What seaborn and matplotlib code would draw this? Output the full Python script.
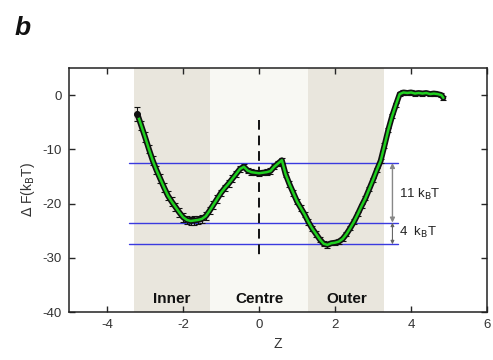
import matplotlib
matplotlib.use("Agg")
import matplotlib.pyplot as plt
import numpy as np
import pandas as pd
import seaborn as sns

# Free-energy profile along the pore axis
z = [-3.2, -3.1, -3.0, -2.9, -2.8, -2.7, -2.6, -2.5, -2.4, -2.3, -2.2, -2.1,
     -2.0, -1.9, -1.8, -1.7, -1.6, -1.5, -1.4, -1.3, -1.2, -1.1, -1.0, -0.9,
     -0.8, -0.7, -0.6, -0.5, -0.4, -0.3, -0.2, -0.1, 0.0, 0.1, 0.2, 0.3,
     0.4, 0.5, 0.6, 0.7, 0.8, 0.9, 1.0, 1.1, 1.2, 1.3, 1.4, 1.5,
     1.6, 1.7, 1.8, 1.9, 2.0, 2.1, 2.2, 2.3, 2.4, 2.5, 2.6, 2.7,
     2.8, 2.9, 3.0, 3.1, 3.2, 3.3, 3.4, 3.5, 3.6, 3.7, 3.8, 3.9,
     4.0, 4.1, 4.2, 4.3, 4.4, 4.5, 4.6, 4.7, 4.8, 4.85]
dF = [-3.5, -5.6, -7.7, -9.9, -12.0, -13.8, -15.4, -17.0, -18.5, -19.6, -20.6, -21.6,
      -22.5, -23.0, -23.2, -23.1, -23.0, -22.8, -22.3, -21.3, -20.2, -19.1, -18.0, -17.1,
      -16.3, -15.4, -14.5, -13.6, -13.2, -13.9, -14.2, -14.3, -14.4, -14.3, -14.2, -14.0,
      -13.2, -12.6, -12.0, -14.6, -16.4, -18.0, -19.6, -20.8, -22.0, -23.4, -24.6, -25.6,
      -26.6, -27.4, -27.6, -27.3, -27.2, -27.0, -26.5, -25.6, -24.5, -23.3, -21.9, -20.4,
      -19.0, -17.3, -15.6, -13.8, -12.1, -9.3, -6.4, -3.9, -1.8, 0.2, 0.5, 0.4,
      0.5, 0.3, 0.4, 0.3, 0.4, 0.2, 0.3, 0.2, 0.0, -0.5]
err = [1.3, 0.9, 0.9, 0.8, 0.8, 0.8, 0.8, 0.8, 0.8, 0.8, 0.8, 0.8,
       0.8, 0.8, 0.8, 0.8, 0.8, 0.7, 0.7, 0.7, 0.7, 0.7, 0.6, 0.6,
       0.6, 0.6, 0.6, 0.5, 0.5, 0.5, 0.5, 0.5, 0.5, 0.5, 0.5, 0.5,
       0.5, 0.5, 0.5, 0.5, 0.5, 0.5, 0.5, 0.5, 0.5, 0.5, 0.5, 0.5,
       0.5, 0.5, 0.5, 0.4, 0.4, 0.4, 0.4, 0.4, 0.4, 0.4, 0.4, 0.4,
       0.4, 0.4, 0.4, 0.4, 0.4, 0.4, 0.4, 0.4, 0.4, 0.4, 0.4, 0.4,
       0.4, 0.4, 0.4, 0.4, 0.4, 0.4, 0.4, 0.4, 0.4, 0.4]

# Pore regions
regions = ["Inner", "Centre", "Outer"]
region_bounds = [(-3.3, -1.3), (-1.3, 1.3), (1.3, 3.3)]
region_colors = ["#e9e6dd", "#f8f8f3", "#e9e6dd"]

# Reference levels for the barriers
levels = [-12.5, -23.5, -27.5]
barrier_labels = ["11 k$_\\mathrm{B}$T", "4  k$_\\mathrm{B}$T"]

xticks = [-4, -2, 0, 2, 4, 6]
yticks = [0, -10, -20, -30, -40]

df = pd.DataFrame({"z": z, "dF": dF, "err": err})

sns.set_style("ticks")
plt.rcParams["font.family"] = ["Liberation Sans", "DejaVu Sans"]
plt.rcParams["axes.unicode_minus"] = False

fig = plt.figure(figsize=(4.93, 3.6), dpi=100)
ax = fig.add_axes([0.140, 0.133, 0.848, 0.678])

for (lo, hi), c in zip(region_bounds, region_colors):
    ax.axvspan(lo, hi, color=c, lw=0, zorder=0)

for lv in levels:
    ax.plot([-3.42, 3.66], [lv, lv], color="#3a3adf", lw=1.0, zorder=2)

ax.plot([0, 0], [-4.5, -30], color="#111111", lw=1.4, ls=(0, (5, 3)), zorder=2)

ax.errorbar(df["z"], df["dF"], yerr=df["err"], fmt="none", ecolor="#111111",
            elinewidth=0.8, capsize=2.0, capthick=0.8, zorder=3)
sns.lineplot(data=df, x="z", y="dF", color="#111111", lw=4.2, ax=ax,
             zorder=4, sort=False)
sns.lineplot(data=df, x="z", y="dF", color="#1fd01f", lw=1.8, ax=ax,
             zorder=5, sort=False)
ax.plot(df["z"].iloc[0], df["dF"].iloc[0], "o", color="#111111", ms=4, zorder=5)

# Barrier arrows
ax.annotate("", xy=(3.51, levels[0]), xytext=(3.51, levels[1]),
            arrowprops=dict(arrowstyle="<|-|>", color="#888888", lw=1.0,
                            mutation_scale=7, shrinkA=0, shrinkB=0), zorder=6)
ax.annotate("", xy=(3.51, levels[1]), xytext=(3.51, levels[2]),
            arrowprops=dict(arrowstyle="<|-|>", color="#666666", lw=0.8,
                            mutation_scale=5, shrinkA=0, shrinkB=0), zorder=6)
ax.text(3.68, -18.3, barrier_labels[0], fontsize=9.5, color="#222222",
        va="center", ha="left")
ax.text(3.68, -25.4, barrier_labels[1], fontsize=9.5, color="#222222",
        va="center", ha="left")

for name, (lo, hi) in zip(regions, region_bounds):
    ax.text((lo + hi) / 2, -37.5, name, fontsize=11, fontweight="bold",
            ha="center", va="center", color="#111111", zorder=6)

ax.set_xlim(-5, 6)
ax.set_ylim(-40, 5)
ax.set_xticks(xticks)
ax.set_yticks(yticks)
ax.tick_params(direction="in", length=4, width=1, top=True, right=True,
               labelsize=9.5, labelcolor="#333333", pad=5)
for s in ax.spines.values():
    s.set_visible(True)
    s.set_linewidth(1.1)
    s.set_color("#222222")
ax.set_xlabel("Z", fontsize=10, color="#333333")
ax.set_ylabel("$\\Delta$ F(k$_\\mathrm{B}$T)", fontsize=10, color="#333333",
              labelpad=4)

fig.text(0.03, 0.955, "b", fontsize=19, fontweight="bold", fontstyle="italic",
         va="top", ha="left", color="#111111")

fig.savefig("out.png", dpi=100)
